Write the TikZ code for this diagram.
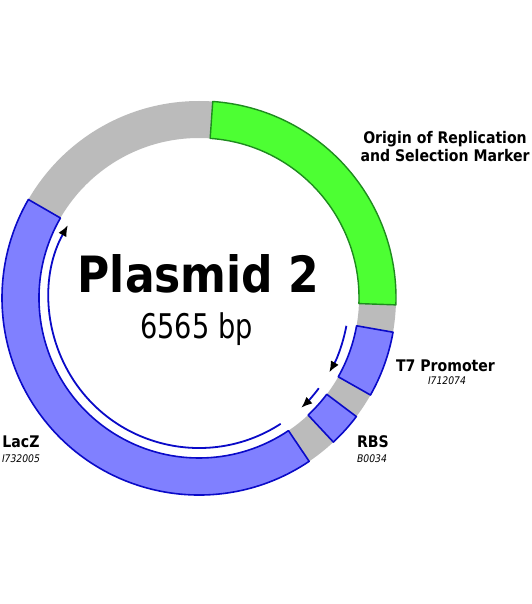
\documentclass[tikz,border=0pt]{standalone}
\usepackage{fontspec}
\setmainfont{DejaVu Sans}
\usetikzlibrary{arrows.meta,positioning}
\definecolor{partblue}{RGB}{128,128,255}
\definecolor{edgeblue}{RGB}{10,10,200}
\definecolor{origreen}{RGB}{77,255,51}
\definecolor{edgegreen}{RGB}{30,140,30}
\definecolor{backgray}{RGB}{187,187,187}
\newcommand{\squeeze}[1]{\scalebox{0.88}[1]{#1}}
% one ring segment from angle #2 to #3
\newcommand{\partarc}[3]{\filldraw[#1] (#2:160) arc[start angle=#2, end angle=#3, radius=160]
  -- (#3:197) arc[start angle=#3, end angle=#2, radius=197] -- cycle;}

\begin{document}
\begin{tikzpicture}[
    x=1pt, y=1pt,
    part/.style={fill=partblue, draw=edgeblue, line width=1.6pt, line join=round},
    ori/.style={fill=origreen, draw=edgegreen, line width=1.4pt, line join=round},
    dirarrow/.style={draw=edgeblue, line width=1.8pt, -{Latex[length=11pt,width=9pt,color=black]}},
    partname/.style={font=\bfseries\fontsize{16}{18}\selectfont, anchor=base, inner sep=0pt},
    partno/.style={font=\itshape\fontsize{10.5}{12}\selectfont, anchor=base, inner sep=0pt}
]
\useasboundingbox[fill=white] (0,0) rectangle (531,-604);

\begin{scope}[shift={(199,-298)}]
% backbone
\fill[backgray, even odd rule] (0,0) circle[radius=197] (0,0) circle[radius=160];
% parts
\partarc{ori}{86}{-2}
\partarc{part}{-10}{-29.5}
\partarc{part}{-37}{-47}
\partarc{part}{150}{304}
% direction arrows
\draw[dirarrow] (-10.7:150) arc[start angle=-10.7, end angle=-29.7, radius=150];
\draw[dirarrow] (-37:150) arc[start angle=-37, end angle=-47, radius=150];
\draw[dirarrow] (303:150) arc[start angle=303, end angle=151, radius=150];
\end{scope}

\node[anchor=base, inner sep=0pt, font=\bfseries\fontsize{50}{60}\selectfont] (title) at (198.5,-292) {\squeeze{Plasmid 2}};
\node[anchor=base, inner sep=0pt, font=\fontsize{34}{40}\selectfont] (size) at (196.5,-338) {\scalebox{0.8}[1]{6565 bp}};

\node[partname] (ori1) at (445,-143) {\squeeze{Origin of Replication}};
\node[partname] (ori2) at (445,-161) {\squeeze{and Selection Marker}};
\node[partname] (t7) at (445.5,-371) {\squeeze{T7 Promoter}};
\node[partno] (t7id) at (447,-384) {\squeeze{I712074}};
\node[partname] (rbs) at (373,-447) {\squeeze{RBS}};
\node[partno] (rbsid) at (372,-462) {\squeeze{B0034}};
\node[partname] (lacz) at (21,-447) {\squeeze{LacZ}};
\node[partno] (laczid) at (21,-462) {\squeeze{I732005}};
\end{tikzpicture}
\end{document}
